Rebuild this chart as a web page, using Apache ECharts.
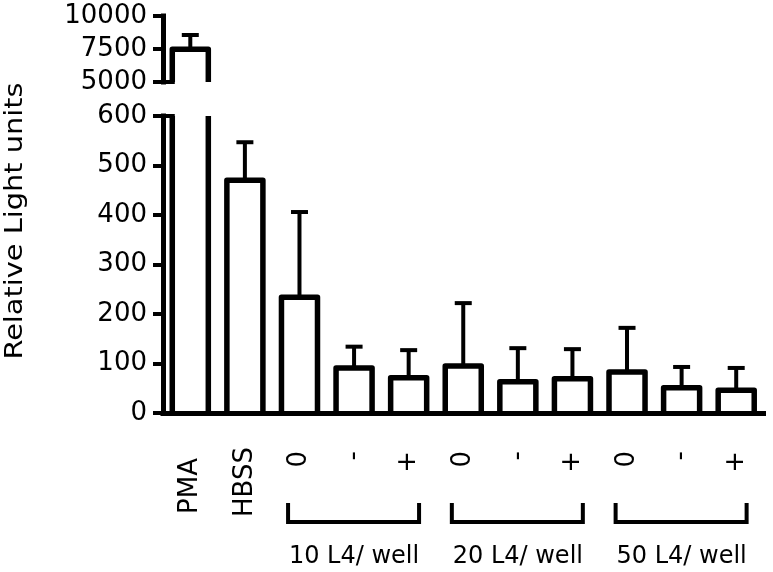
<!DOCTYPE html>
<html>
<head>
<meta charset="utf-8">
<script src="https://cdn.jsdelivr.net/npm/echarts@6/dist/echarts.min.js"></script>
<style>
  html, body { margin: 0; padding: 0; background: #fff; }
  #chart { width: 773px; height: 572px; }
</style>
</head>
<body>
<div id="chart"></div>
<script>
  // data
  const categories = ['PMA', 'HBSS', '0', '-', '+', '0', '-', '+', '0', '-', '+']
  const means = [7480, 470, 234, 91, 71, 95, 63, 69, 83, 51, 46]
  const errors = [1080, 77, 172, 43, 56, 127, 68, 60, 89, 42, 45]
  const groupNames = ['10 L4/ well', '20 L4/ well', '50 L4/ well']
  const groupMembers = [[2, 3, 4], [5, 6, 7], [8, 9, 10]]
  const lowerRange = [0, 600, 100]      // min, max, step
  const upperRange = [5000, 10000, 2500]

  const FONT = 'DejaVu Sans'
  const chart = echarts.init(document.getElementById('chart'), null, { renderer: 'canvas' })

  // bars drawn as open-bottom outlines, broken where they leave a segment
  function renderBar(params, api) {
    const cs = params.coordSys
    const i = api.value(0), v = api.value(1), e = api.value(2)
    const top = api.coord([i, v])
    const x = top[0]
    const half = api.size([1, 0])[0] * 0.33
    const gridTop = cs.y, gridBottom = cs.y + cs.height
    let yTop = top[1]
    let yBase = api.coord([i, 0])[1]
    if (yTop > gridBottom) return
    const brokenBase = yBase > gridBottom
    if (brokenBase) yBase = gridBottom
    const brokenTop = yTop < gridTop
    const barStyle = { stroke: '#000', lineWidth: 5.5, lineJoin: 'round', lineCap: 'butt', fill: null }
    const errStyle = { stroke: '#000', lineWidth: 4 }
    const children = []
    if (brokenTop) {
      children.push({ type: 'line', shape: { x1: x - half, y1: yBase, x2: x - half, y2: gridTop }, style: barStyle })
      children.push({ type: 'line', shape: { x1: x + half, y1: yBase, x2: x + half, y2: gridTop }, style: barStyle })
      children.push({ type: 'line', shape: { x1: cs.x, y1: gridTop, x2: x - half + 2.5, y2: gridTop }, style: { stroke: '#000', lineWidth: 4 } })
    } else {
      children.push({
        type: 'polyline',
        shape: { points: [[x - half, yBase], [x - half, yTop], [x + half, yTop], [x + half, yBase]] },
        style: barStyle
      })
      const yErr = api.coord([i, v + e])[1]
      children.push({ type: 'line', shape: { x1: x, y1: yTop, x2: x, y2: yErr }, style: errStyle })
      children.push({ type: 'line', shape: { x1: x - 8.5, y1: yErr, x2: x + 8.5, y2: yErr }, style: errStyle })
    }
    if (brokenBase) {
      children.push({ type: 'line', shape: { x1: cs.x, y1: gridBottom, x2: x - half + 2.5, y2: gridBottom }, style: { stroke: '#000', lineWidth: 4 } })
    }
    return { type: 'group', children: children }
  }

  const barData = categories.map((c, i) => [i, means[i], errors[i]])

  const axisLineStyle = { color: '#000', width: 5, cap: 'square' }
  const yAxisCommon = {
    type: 'value',
    axisLine: { show: true, lineStyle: axisLineStyle },
    axisTick: { show: true, length: 10, lineStyle: { color: '#000', width: 4 } },
    axisLabel: { color: '#000', fontFamily: FONT, fontSize: 26, margin: 16, formatter: v => String(v) },
    splitLine: { show: false }
  }

  chart.setOption({
    animation: false,
    backgroundColor: '#fff',
    grid: [
      { left: 163, right: 9.5, top: 16, height: 66 },
      { left: 163, right: 9.5, top: 116, bottom: 159 }
    ],
    xAxis: [
      { type: 'category', gridIndex: 0, data: categories, show: false },
      {
        type: 'category',
        gridIndex: 1,
        data: categories.map((c, i) => ({
          value: c,
          textStyle: { padding: [0, i === 0 ? 11 : (i === 1 ? 0 : 4), 0, 0] }
        })),
        axisLine: { onZero: false, lineStyle: axisLineStyle },
        axisTick: { alignWithLabel: true, length: 10, lineStyle: { color: '#000', width: 4.5 } },
        axisLabel: { interval: 0, rotate: 90, margin: 34, color: '#000', fontFamily: FONT, fontSize: 26 }
      }
    ],
    yAxis: [
      Object.assign({}, yAxisCommon, { gridIndex: 0, min: upperRange[0], max: upperRange[1], interval: upperRange[2] }),
      Object.assign({}, yAxisCommon, { gridIndex: 1, min: lowerRange[0], max: lowerRange[1], interval: lowerRange[2] })
    ],
    series: [
      { type: 'custom', xAxisIndex: 0, yAxisIndex: 0, renderItem: renderBar, encode: { x: 0, y: 1 }, data: barData },
      { type: 'custom', xAxisIndex: 1, yAxisIndex: 1, renderItem: renderBar, encode: { x: 0, y: 1 }, data: barData }
    ]
  })

  // group brackets and labels, placed from the category axis
  const graphics = [{
    type: 'text',
    x: 16, y: 221,
    rotation: Math.PI / 2,
    scaleX: 1.2,
    style: { text: 'Relative Light units', fill: '#000', font: '24px "DejaVu Sans"', align: 'center', verticalAlign: 'middle' }
  }]
  groupMembers.forEach((m, g) => {
    const mid = chart.convertToPixel({ xAxisIndex: 1 }, m[1])
    const x1 = mid - 66, x2 = mid + 65
    graphics.push({
      type: 'polyline',
      shape: { points: [[x1, 503], [x1, 522], [x2, 522], [x2, 503]] },
      style: { stroke: '#000', lineWidth: 4, fill: null }
    })
    graphics.push({
      type: 'text',
      x: mid, y: 557,
      style: { text: groupNames[g], fill: '#000', font: '24px "DejaVu Sans"', align: 'center', verticalAlign: 'middle' }
    })
  })
  chart.setOption({ graphic: graphics })
</script>
</body>
</html>
